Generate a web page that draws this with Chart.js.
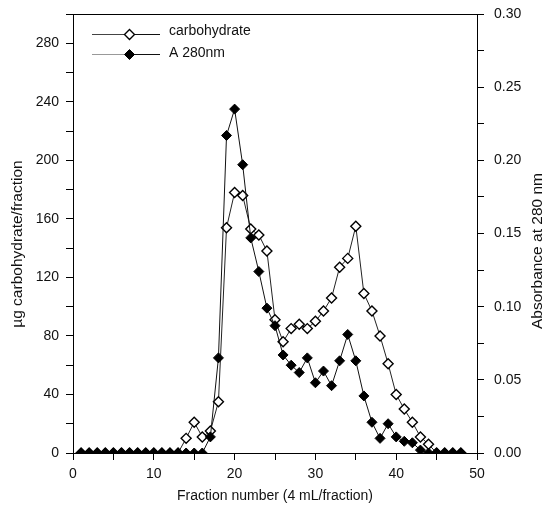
<!DOCTYPE html>
<html>
<head>
<meta charset="utf-8">
<script src="https://cdn.jsdelivr.net/npm/chart.js@4.4.1/dist/chart.umd.min.js"></script>
<style>
  html, body { margin: 0; padding: 0; background: #fff; }
  canvas { display: block; }
</style>
</head>
<body>
<canvas id="c" width="556" height="508"></canvas>
<script>
// ---- data ----
const fractions = [1,2,3,4,5,6,7,8,9,10,11,12,13,14,15,16,17,18,19,20,21,22,23,24,25,26,27,28,29,30,31,32,33,34,35,36,37,38,39,40,41,42,43,44,45,46,47,48];
const carbohydrate = [0,0,0,0,0,0,0,0,0,0,0,0,0,10,21,11,15,35,154,178,176,153,149,138,91,76,85,88,85,90,97,106,127,133,155,109,97,80,61,40,30,21,11,6,0,0,0,0];
const a280 = [0,0,0,0,0,0,0,0,0,0,0,0,0,0,0,0,0.011,0.065,0.217,0.235,0.197,0.147,0.124,0.099,0.087,0.067,0.060,0.055,0.065,0.048,0.056,0.046,0.063,0.081,0.063,0.039,0.021,0.010,0.020,0.011,0.008,0.007,0.002,0,0,0,0,0];

const xTickLabels = [0,10,20,30,40,50];
const leftTickLabels = [0,40,80,120,160,200,240,280];
const rightTickLabels = ['0.00','0.05','0.10','0.15','0.20','0.25','0.30'];

const seriesNames = ['carbohydrate', 'A 280nm'];
const xTitle = 'Fraction number (4 mL/fraction)';
const leftTitle = 'µg carbohydrate/fraction';
const rightTitle = 'Absorbance at 280 nm';

const FONT = '"Liberation Sans", Arial, Helvetica, sans-serif';

function diamond(ctx, x, y, r) {
  ctx.beginPath();
  ctx.moveTo(x, y - r);
  ctx.lineTo(x + r, y);
  ctx.lineTo(x, y + r);
  ctx.lineTo(x - r, y);
  ctx.closePath();
}

const decor = {
  id: 'decor',
  afterDraw(chart) {
    const ctx = chart.ctx;
    const a = chart.chartArea;
    ctx.save();
    // top frame line
    ctx.strokeStyle = '#000';
    ctx.lineWidth = 1;
    ctx.beginPath();
    ctx.moveTo(a.left - 6, Math.round(a.top) + 0.5);
    ctx.lineTo(a.right, Math.round(a.top) + 0.5);
    ctx.stroke();

    ctx.fillStyle = '#111';
    // x title
    ctx.font = '14px ' + FONT;
    ctx.textAlign = 'center';
    ctx.textBaseline = 'middle';
    ctx.fillText(xTitle, 275, 496);
    // left title
    ctx.save();
    ctx.translate(18, 244);
    ctx.rotate(-Math.PI / 2);
    ctx.font = '15.5px ' + FONT;
    ctx.fillText(leftTitle, 0, 0);
    ctx.restore();
    // right title
    ctx.save();
    ctx.translate(538, 251);
    ctx.rotate(-Math.PI / 2);
    ctx.font = '15.5px ' + FONT;
    ctx.fillText(rightTitle, 0, 0);
    ctx.restore();

    // legend
    const rows = [
      {y: 34, ty: 31, open: true},
      {y: 54, ty: 53, open: false}
    ];
    rows.forEach((r, i) => {
      ctx.lineWidth = 1;
      ctx.strokeStyle = r.open ? '#444' : '#999';
      ctx.beginPath();
      ctx.moveTo(92, r.y + 0.5); ctx.lineTo(129, r.y + 0.5); ctx.stroke();
      ctx.strokeStyle = '#111';
      ctx.beginPath();
      ctx.moveTo(129, r.y + 0.5); ctx.lineTo(160, r.y + 0.5); ctx.stroke();
      diamond(ctx, 129.5, r.y + 0.5, 5);
      ctx.fillStyle = r.open ? '#fff' : '#000';
      ctx.fill();
      ctx.lineWidth = r.open ? 1.4 : 1;
      ctx.strokeStyle = '#000';
      ctx.stroke();
      ctx.fillStyle = '#111';
      ctx.font = '14px ' + FONT;
      ctx.textAlign = 'left';
      ctx.textBaseline = 'middle';
      ctx.fillText(seriesNames[i], 169, r.ty);
    });
    ctx.restore();
  }
};

const tickFont = {family: FONT, size: 14};

function fixVertical(width) {
  return s => { s.width = width; s.paddingTop = 0; s.paddingBottom = 0; };
}

new Chart(document.getElementById('c'), {
  type: 'line',
  data: {
    datasets: [
      {
        label: seriesNames[1],
        data: fractions.map((f, i) => ({x: f, y: a280[i]})),
        yAxisID: 'y1',
        order: 0,
        borderColor: '#111',
        borderWidth: 1,
        pointStyle: 'rectRot',
        pointRadius: 5,
        pointBackgroundColor: '#000',
        pointBorderColor: '#000',
        pointBorderWidth: 1,
        tension: 0
      },
      {
        label: seriesNames[0],
        data: fractions.map((f, i) => ({x: f, y: carbohydrate[i]})),
        yAxisID: 'y',
        order: 1,
        borderColor: '#222',
        borderWidth: 1,
        pointStyle: 'rectRot',
        pointRadius: 5,
        pointBackgroundColor: '#fff',
        pointBorderColor: '#000',
        pointBorderWidth: 1.4,
        tension: 0
      }
    ]
  },
  options: {
    responsive: false,
    animation: false,
    devicePixelRatio: 1,
    layout: {padding: {top: 14, left: 0, right: 0, bottom: 0}},
    plugins: {legend: {display: false}, tooltip: {enabled: false}},
    scales: {
      x: {
        type: 'linear',
        min: 0, max: 50,
        afterFit: s => { s.height = 55; s.paddingLeft = 0; s.paddingRight = 0; },
        ticks: {
          stepSize: 5,
          autoSkip: false,
          maxRotation: 0,
          color: '#111',
          font: tickFont,
          padding: 6,
          callback: v => xTickLabels.includes(v) ? String(v) : ''
        },
        grid: {drawOnChartArea: false, drawTicks: true, tickLength: 7, tickColor: '#000'},
        border: {display: true, color: '#000', width: 1}
      },
      y: {
        type: 'linear',
        position: 'left',
        min: 0, max: 300,
        afterFit: fixVertical(73),
        ticks: {
          stepSize: 20,
          autoSkip: false,
          color: '#111',
          font: tickFont,
          padding: 7,
          callback: v => leftTickLabels.includes(v) ? String(v) : ''
        },
        grid: {drawOnChartArea: false, drawTicks: true, tickLength: 7, tickColor: '#000'},
        border: {display: true, color: '#000', width: 1}
      },
      y1: {
        type: 'linear',
        position: 'right',
        min: 0, max: 0.3,
        afterFit: fixVertical(79),
        ticks: {
          stepSize: 0.025,
          autoSkip: false,
          color: '#111',
          font: tickFont,
          padding: 10,
          callback: v => {
            const s = v.toFixed(2);
            return (Math.round(v * 1000) % 50 === 0 && rightTickLabels.includes(s)) ? s : '';
          }
        },
        grid: {drawOnChartArea: false, drawTicks: true, tickLength: 7, tickColor: '#000'},
        border: {display: true, color: '#000', width: 1}
      }
    }
  },
  plugins: [decor]
});
</script>
</body>
</html>
